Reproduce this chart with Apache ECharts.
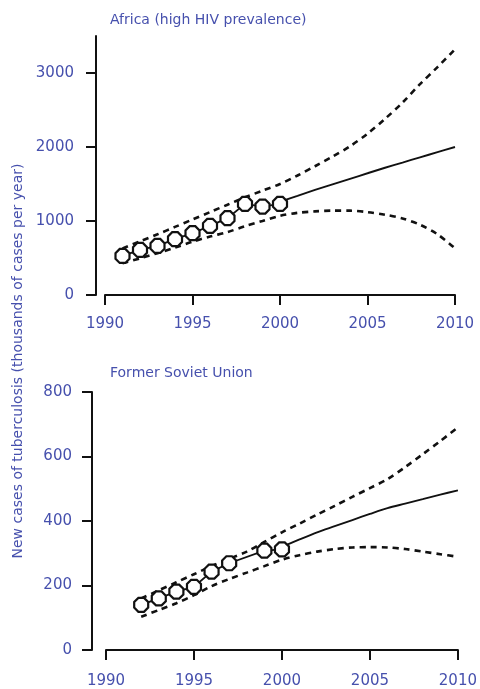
<!DOCTYPE html>
<html>
<head>
<meta charset="utf-8">
<script src="https://cdn.jsdelivr.net/npm/echarts@6/dist/echarts.min.js"></script>
<style>
html,body{margin:0;padding:0;background:#fff;}
#c{width:480px;height:689px;}
</style>
</head>
<body>
<div id="c"></div>
<script>
// ---- Data ----
var africaObsYears = [1991,1992,1993,1994,1995,1996,1997,1998,1999,2000];
var africaObs      = [528, 609, 663, 754, 835, 934, 1038, 1231, 1195, 1231];
var africaBandYears = [1991,1992,1993,1994,1995,1996,1997,1998,1999,2000,2001,2002,2003,2004,2005,2006,2007,2008,2009,2010];
var africaUpper = [630,725,820,920,1020,1120,1220,1320,1410,1500,1615,1740,1870,2010,2180,2380,2600,2850,3080,3320];
var africaLower = [430,495,565,640,720,790,850,930,1000,1070,1110,1130,1140,1140,1120,1085,1035,950,820,630];
var africaProjYears = [2000,2001,2002,2003,2004,2005,2006,2007,2008,2009,2010];
var africaProj = [1260,1340,1420,1495,1570,1645,1720,1790,1860,1930,2000];

var fsuObsYears = [1992,1993,1994,1995,1996,1997,1999,2000];
var fsuObs      = [140, 160, 181, 196, 243, 269, 308, 312];
var fsuBandYears = [1992,1993,1994,1995,1996,1997,1998,1999,2000,2001,2002,2003,2004,2005,2006,2007,2008,2009,2010];
var fsuUpper = [160,185,210,235,260,283,305,335,365,392,420,447,475,502,530,567,607,648,690];
var fsuLower = [103,124,145,170,198,220,240,260,280,294,305,313,318,319,318,313,305,297,289];
var fsuProjYears = [2000,2001,2002,2003,2004,2005,2006,2007,2008,2009,2010];
var fsuProj = [320,343,365,384,403,422,440,454,468,482,495];

var xTicks = [1990,1995,2000,2005,2010];
var africaYTicks = [0,1000,2000,3000];
var fsuYTicks = [0,200,400,600,800];

var titles = ['Africa (high HIV prevalence)', 'Former Soviet Union'];
var yTitle = 'New cases of tuberculosis (thousands of cases per year)';

// ---- Helpers ----
function pairs(xs, ys){ return xs.map(function(x,i){ return [x, ys[i]]; }); }
var BLUE = '#4650ad';
var FONT = 'DejaVu Sans';
var octagon = 'path://M3,0 L7,0 L10,3 L10,7 L7,10 L3,10 L0,7 L0,3 Z';
function plain(v){ return String(v); }

function xAxisOpt(gi){
  return {
    gridIndex: gi, type: 'value', min: 1990, max: 2010, interval: 5,
    offset: gi === 0 ? 10 : 12,
    axisLine: {show: true, lineStyle: {color: '#111', width: 2}},
    axisTick: {show: true, length: 10, lineStyle: {color: '#111', width: 2}},
    axisLabel: {color: BLUE, fontFamily: FONT, fontSize: 15, margin: 12,
      customValues: xTicks, formatter: plain},
    splitLine: {show: false}
  };
}
function yAxisOpt(gi, max, ticks, off, margin){
  return {
    gridIndex: gi, type: 'value', min: 0, max: max,
    offset: off,
    axisLine: {show: true, lineStyle: {color: '#111', width: 2}},
    axisTick: {show: true, length: 10, lineStyle: {color: '#111', width: 2}, customValues: ticks},
    axisLabel: {color: BLUE, fontFamily: FONT, fontSize: 15, margin: margin, customValues: ticks, formatter: plain},
    splitLine: {show: false}
  };
}
function obsSeries(gi, xs, ys){
  return {type: 'line', xAxisIndex: gi, yAxisIndex: gi, data: pairs(xs, ys),
    symbol: octagon, symbolSize: 14, showAllSymbol: true,
    itemStyle: {color: '#fff', borderColor: '#111', borderWidth: 2.2},
    lineStyle: {color: '#111', width: 1.8}, z: 5, animation: false};
}
function lineSeries(gi, xs, ys, dashed){
  return {type: 'line', xAxisIndex: gi, yAxisIndex: gi, data: pairs(xs, ys),
    symbol: 'none', smooth: 0.3,
    lineStyle: {color: '#111', width: dashed ? 2.6 : 1.9, type: dashed ? [6, 5] : 'solid'},
    z: 3, animation: false};
}

var chart = echarts.init(document.getElementById('c'), null, {renderer: 'canvas'});
chart.setOption({
  backgroundColor: '#fff',
  animation: false,
  title: [
    {text: titles[0], left: 110, top: 12, padding: 0,
      textStyle: {color: BLUE, fontFamily: FONT, fontSize: 14, fontWeight: 'normal', lineHeight: 16}},
    {text: titles[1], left: 110, top: 365, padding: 0,
      textStyle: {color: BLUE, fontFamily: FONT, fontSize: 14, fontWeight: 'normal', lineHeight: 16}}
  ],
  graphic: [{
    type: 'text', x: 18, y: 361, rotation: Math.PI / 2,
    style: {text: yTitle, fill: BLUE, font: '14px "DejaVu Sans"', align: 'center', verticalAlign: 'middle'}
  }],
  grid: [
    {left: 105, right: 25, top: 36, height: 259},
    {left: 106, right: 22, top: 392, height: 258}
  ],
  xAxis: [xAxisOpt(0), xAxisOpt(1)],
  yAxis: [yAxisOpt(0, 3500, africaYTicks, 9, 22), yAxisOpt(1, 800, fsuYTicks, 14, 20)],
  series: [
    lineSeries(0, africaBandYears, africaUpper, true),
    lineSeries(0, africaBandYears, africaLower, true),
    lineSeries(0, africaProjYears, africaProj, false),
    obsSeries(0, africaObsYears, africaObs),
    lineSeries(1, fsuBandYears, fsuUpper, true),
    lineSeries(1, fsuBandYears, fsuLower, true),
    lineSeries(1, fsuProjYears, fsuProj, false),
    obsSeries(1, fsuObsYears, fsuObs)
  ]
});
</script>
</body>
</html>
